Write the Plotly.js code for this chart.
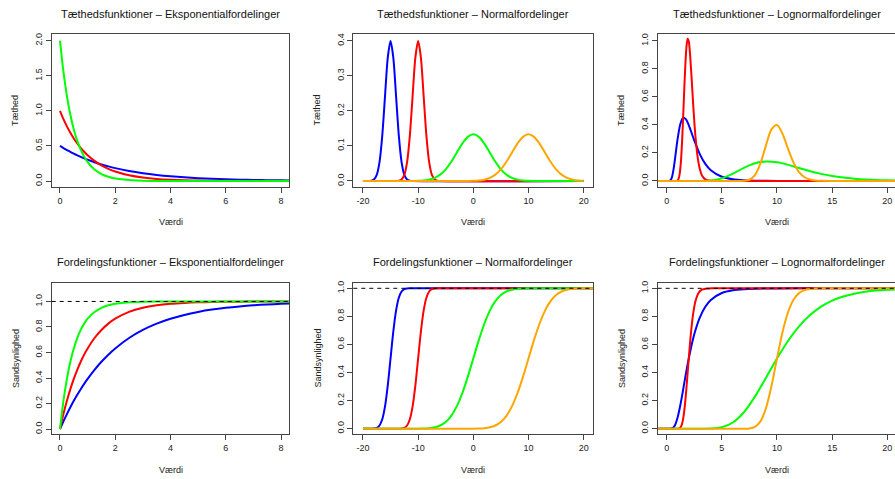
<!DOCTYPE html>
<html>
<head>
<meta charset="utf-8">
<script src="https://cdn.plot.ly/plotly-3.0.1.min.js"></script>
<style>html,body{margin:0;padding:0;background:#fff;}#chart{width:895px;height:479px;}</style>
</head>
<body>
<div id="chart"></div>
<script>
// ---------- Titles / labels ----------
const panelTitles = [
  "Tæthedsfunktioner – Eksponentialfordelinger",
  "Tæthedsfunktioner – Normalfordelinger",
  "Tæthedsfunktioner – Lognormalfordelinger",
  "Fordelingsfunktioner – Eksponentialfordelinger",
  "Fordelingsfunktioner – Normalfordelinger",
  "Fordelingsfunktioner – Lognormalfordelinger"
];
const xLabel = "Værdi";
const yLabelTop = "Tæthed";
const yLabelBottom = "Sandsynlighed";

// ---------- Exponential (rates 0.5 blue, 1 red, 2 green) ----------
const expX = [0,0.125,0.25,0.375,0.5,0.625,0.75,0.875,1,1.25,1.5,1.75,2,2.5,3,3.5,4,4.5,5,5.5,6,6.5,7,7.5,8,8.3];
const expDensBlue = [0.5,0.4697,0.4412,0.4145,0.3894,0.3658,0.3436,0.3228,0.3033,0.2676,0.2362,0.2084,0.1839,0.1433,0.1116,0.0869,0.0677,0.0527,0.0410,0.0320,0.0249,0.0194,0.0151,0.0118,0.0092,0.0079];
const expDensRed = [1,0.8825,0.7788,0.6873,0.6065,0.5353,0.4724,0.4169,0.3679,0.2865,0.2231,0.1738,0.1353,0.0821,0.0498,0.0302,0.0183,0.0111,0.0067,0.0041,0.0025,0.0015,0.0009,0.0006,0.0003,0.0002];
const expDensGreen = [2,1.5576,1.2131,0.9447,0.7358,0.5730,0.4463,0.3476,0.2707,0.1642,0.0996,0.0604,0.0366,0.0135,0.0050,0.0018,0.0007,0.0002,0.0001,0,0,0,0,0,0,0];
const expCdfBlue = [0,0.0606,0.1175,0.1710,0.2212,0.2684,0.3127,0.3543,0.3935,0.4647,0.5276,0.5831,0.6321,0.7135,0.7769,0.8262,0.8647,0.8946,0.9179,0.9361,0.9502,0.9612,0.9698,0.9765,0.9817,0.9842];
const expCdfRed = [0,0.1175,0.2212,0.3127,0.3935,0.4647,0.5276,0.5831,0.6321,0.7135,0.7769,0.8262,0.8647,0.9179,0.9502,0.9698,0.9817,0.9889,0.9933,0.9959,0.9975,0.9985,0.9991,0.9994,0.9997,0.9998];
const expCdfGreen = [0,0.2212,0.3935,0.5276,0.6321,0.7135,0.7769,0.8262,0.8647,0.9179,0.9502,0.9698,0.9817,0.9933,0.9975,0.9991,0.9997,0.9999,1,1,1,1,1,1,1,1];

// ---------- Normal ----------
const normBlueDensX = [-20,-19,-18.5,-18,-17.5,-17,-16.5,-16,-15.5,-15,-14.5,-14,-13.5,-13,-12.5,-12,-11.5,-11,20];
const normBlueDens = [0,0.0001,0.0009,0.0044,0.0175,0.0540,0.1295,0.2420,0.3521,0.3989,0.3521,0.2420,0.1295,0.0540,0.0175,0.0044,0.0009,0.0001,0];
const normBlueCdfX = [-20,-19,-18.5,-18,-17.5,-17,-16.5,-16,-15.5,-15,-14.5,-14,-13.5,-13,-12.5,-12,-11.5,-11,21.7];
const normBlueCdf = [0,0,0.0002,0.0013,0.0062,0.0228,0.0668,0.1587,0.3085,0.5,0.6915,0.8413,0.9332,0.9772,0.9938,0.9987,0.9998,1,1];

const normRedDensX = [-20,-14,-13.5,-13,-12.5,-12,-11.5,-11,-10.5,-10,-9.5,-9,-8.5,-8,-7.5,-7,-6.5,-6,20];
const normRedDens = [0,0.0001,0.0009,0.0044,0.0175,0.0540,0.1295,0.2420,0.3521,0.3989,0.3521,0.2420,0.1295,0.0540,0.0175,0.0044,0.0009,0.0001,0];
const normRedCdfX = [-20,-14,-13.5,-13,-12.5,-12,-11.5,-11,-10.5,-10,-9.5,-9,-8.5,-8,-7.5,-7,-6.5,-6,21.7];
const normRedCdf = [0,0,0.0002,0.0013,0.0062,0.0228,0.0668,0.1587,0.3085,0.5,0.6915,0.8413,0.9332,0.9772,0.9938,0.9987,0.9998,1,1];

const normGreenDensX = [-20,-12,-11,-10,-9,-8,-7,-6,-5,-4,-3,-2,-1,0,1,2,3,4,5,6,7,8,9,10,11,12,20];
const normGreenDens = [0,0,0.0002,0.0005,0.0015,0.0038,0.0087,0.0180,0.0331,0.0547,0.0807,0.1065,0.1258,0.1330,0.1258,0.1065,0.0807,0.0547,0.0331,0.0180,0.0087,0.0038,0.0015,0.0005,0.0002,0,0];
const normGreenCdfX = [-20,-12,-11,-10,-9,-8,-7,-6,-5,-4,-3,-2,-1,0,1,2,3,4,5,6,7,8,9,10,11,12,21.7];
const normGreenCdf = [0,0,0.0001,0.0004,0.0013,0.0038,0.0098,0.0228,0.0478,0.0912,0.1587,0.2525,0.3694,0.5,0.6306,0.7475,0.8413,0.9088,0.9522,0.9772,0.9902,0.9962,0.9987,0.9996,0.9999,1,1];

const normOrangeDensX = [-20,-2,-1,0,1,2,3,4,5,6,7,8,9,10,11,12,13,14,15,16,17,18,19,20];
const normOrangeDens = [0,0,0.0002,0.0005,0.0015,0.0038,0.0087,0.0180,0.0331,0.0547,0.0807,0.1065,0.1258,0.1330,0.1258,0.1065,0.0807,0.0547,0.0331,0.0180,0.0087,0.0038,0.0015,0.0005];
const normOrangeCdfX = [-20,-2,-1,0,1,2,3,4,5,6,7,8,9,10,11,12,13,14,15,16,17,18,19,20,21.7];
const normOrangeCdf = [0,0,0.0001,0.0004,0.0013,0.0038,0.0098,0.0228,0.0478,0.0912,0.1587,0.2525,0.3694,0.5,0.6306,0.7475,0.8413,0.9088,0.9522,0.9772,0.9902,0.9962,0.9987,0.9996,0.9999];

// ---------- Lognormal ----------
const lnBlueX = [-0.8,0,0.25,0.4,0.5,0.6,0.75,1,1.25,1.5,1.75,2,2.5,3,3.5,4,5,6,7,8,10,12,20.8];
const lnBlueDens = [0,0,0.0006,0.0112,0.0342,0.0733,0.1553,0.3052,0.4104,0.4508,0.4400,0.3989,0.2889,0.1915,0.1219,0.0763,0.0298,0.0119,0.0049,0.0021,0.0005,0.0001,0];
const lnBlueCdf = [0,0,0,0.0006,0.0028,0.0080,0.0249,0.0829,0.1736,0.2825,0.3947,0.5,0.6723,0.7913,0.8685,0.9171,0.9666,0.9860,0.9939,0.9972,0.9994,0.9998,1];

const lnRedX = [-0.8,0.8,0.9,1.0,1.1,1.2,1.3,1.4,1.5,1.6,1.7,1.8,1.9,2.0,2.1,2.2,2.3,2.4,2.5,2.6,2.8,3.0,3.2,3.5,4.0,4.5,20.8];
const lnRedDens = [0,0,0.0008,0.0049,0.0208,0.0637,0.1508,0.2905,0.4726,0.6691,0.8434,0.9646,1.0158,0.9974,0.9220,0.8093,0.6794,0.5485,0.4282,0.3244,0.1730,0.0852,0.0394,0.0114,0.0012,0.0001,0];
const lnRedCdf = [0,0,0,0.0003,0.0014,0.0053,0.0156,0.0373,0.0752,0.1322,0.2082,0.2992,0.3988,0.5,0.5964,0.6832,0.7577,0.8190,0.8677,0.9052,0.9537,0.9787,0.9906,0.9974,0.9997,1,1];

const lnGreenX = [-0.8,2,3,4,5,6,7,8,9,10,11,12,13,14,15,16,17,18,19,20,20.8];
const lnGreenDens = [0,0,0.0001,0.0031,0.0184,0.0520,0.0937,0.1261,0.1389,0.1330,0.1149,0.0921,0.0698,0.0506,0.0356,0.0244,0.0164,0.0108,0.0071,0.0046,0.0032];
const lnGreenCdf = [0,0,0,0.0011,0.0104,0.0443,0.1172,0.2285,0.3627,0.5,0.6246,0.7283,0.8091,0.8690,0.9117,0.9414,0.9615,0.9750,0.9838,0.9896,0.9927];

const lnOrangeX = [-0.8,6.5,7,7.5,8,8.5,9,9.5,10,10.5,11,11.5,12,12.5,13,13.5,14,15,20.8];
const lnOrangeDens = [0,0,0.0010,0.0085,0.0414,0.1254,0.2544,0.3681,0.3989,0.3373,0.2303,0.1306,0.0631,0.0265,0.0098,0.0033,0.0010,0.0001,0];
const lnOrangeCdf = [0,0,0.0002,0.0020,0.0128,0.0521,0.1460,0.3040,0.5,0.6872,0.8297,0.9189,0.9659,0.9872,0.9957,0.9987,0.9996,1,1];

// ---------- Tick labels ----------
const expXTicks = [0,2,4,6,8];
const normXTicks = [-20,-10,0,10,20];
const normXTickText = ["-20","-10","0","10","20"];
const lnXTicks = [0,5,10,15,20];
const expDensYTicks = [0,0.5,1,1.5,2];
const normDensYTicks = [0,0.1,0.2,0.3,0.4];
const probYTicks = [0,0.2,0.4,0.6,0.8,1];
const refLevel = 1;

// ---------- Build ----------
const BLUE = "#0000FF", RED = "#FF0000", GREEN = "#00FF00", ORANGE = "#FFA500";
function tr(x, y, color, ax) {
  return {x: x, y: y, type: "scatter", mode: "lines", xaxis: "x" + ax, yaxis: "y" + ax,
          line: {color: color, width: 2, shape: "spline", smoothing: 0.8}, hoverinfo: "skip"};
}
const data = [
  tr(expX, expDensBlue, BLUE, ""), tr(expX, expDensRed, RED, ""), tr(expX, expDensGreen, GREEN, ""),
  tr(normBlueDensX, normBlueDens, BLUE, "2"), tr(normRedDensX, normRedDens, RED, "2"),
  tr(normGreenDensX, normGreenDens, GREEN, "2"), tr(normOrangeDensX, normOrangeDens, ORANGE, "2"),
  tr(lnBlueX, lnBlueDens, BLUE, "3"), tr(lnRedX, lnRedDens, RED, "3"),
  tr(lnGreenX, lnGreenDens, GREEN, "3"), tr(lnOrangeX, lnOrangeDens, ORANGE, "3"),
  tr(expX, expCdfBlue, BLUE, "4"), tr(expX, expCdfRed, RED, "4"), tr(expX, expCdfGreen, GREEN, "4"),
  tr(normBlueCdfX, normBlueCdf, BLUE, "5"), tr(normRedCdfX, normRedCdf, RED, "5"),
  tr(normGreenCdfX, normGreenCdf, GREEN, "5"), tr(normOrangeCdfX, normOrangeCdf, ORANGE, "5"),
  tr(lnBlueX, lnBlueCdf, BLUE, "6"), tr(lnRedX, lnRedCdf, RED, "6"),
  tr(lnGreenX, lnGreenCdf, GREEN, "6"), tr(lnOrangeX, lnOrangeCdf, ORANGE, "6")
];

const W = 895, H = 479;
const colPx = [[51.7, 289.3], [353.3, 593.3], [657.7, 895]];
const rowPx = [[34.3, 186.7], [282.7, 434.3]];
const xr = [[-0.30, 8.30], [-21.75, 21.75], [-0.816, 20.70]];
const yr = [[-0.081, 2.091], [-0.0163, 0.4183], [-0.041, 1.047], [-0.041, 1.147], [-0.04, 1.04], [-0.04, 1.04]];
const yTicks = [expDensYTicks, normDensYTicks, probYTicks, probYTicks, probYTicks, probYTicks];
const xTicks = [expXTicks, normXTicks, lnXTicks];
const xTickText = [expXTicks.map(String), normXTickText, lnXTicks.map(String)];

const font = {family: "Liberation Sans, Arial, Helvetica, sans-serif", size: 9, color: "#222"};
const layout = {
  width: W, height: H, margin: {l: 0, r: 0, t: 0, b: 0},
  paper_bgcolor: "#fff", plot_bgcolor: "#fff", showlegend: false, font: font,
  annotations: [], shapes: []
};
for (let i = 0; i < 6; i++) {
  const c = i % 3, r = Math.floor(i / 3);
  const sfx = i === 0 ? "" : String(i + 1);
  const common = {showline: true, linecolor: "#444", linewidth: 1, ticks: "outside", ticklen: 5,
                  tickcolor: "#444", tickwidth: 1, showgrid: false, zeroline: false, fixedrange: true,
                  tickfont: {size: 9, color: "#222"}};
  layout["xaxis" + sfx] = Object.assign({}, common, {
    domain: [colPx[c][0] / W, colPx[c][1] / W], range: xr[c], anchor: "y" + sfx, mirror: true,
    tickmode: "array", tickvals: xTicks[c], ticktext: xTickText[c]
  });
  layout["yaxis" + sfx] = Object.assign({}, common, {
    domain: [1 - rowPx[r][1] / H, 1 - rowPx[r][0] / H], range: yr[i], anchor: "x" + sfx,
    mirror: c === 2 ? false : true, tickangle: -90, tickmode: "array", tickvals: yTicks[i],
    ticktext: yTicks[i].map(v => v.toFixed(1))
  });
  const cx = (colPx[c][0] + (c === 2 ? 896.2 : colPx[c][1])) / 2;
  const titleY = r === 0 ? 14 : 261.7;
  const xlabY = r === 0 ? 222 : 470;
  const ylabX = colPx[c][0] - 36.2;
  const midY = (rowPx[r][0] + rowPx[r][1]) / 2;
  layout.annotations.push(
    {text: panelTitles[i], xref: "paper", yref: "paper", x: cx / W, y: 1 - titleY / H,
     xanchor: "center", yanchor: "middle", showarrow: false, font: {size: 11, color: "#111"}},
    {text: xLabel, xref: "paper", yref: "paper", x: cx / W, y: 1 - xlabY / H,
     xanchor: "center", yanchor: "middle", showarrow: false, font: {size: 9, color: "#222"}},
    {text: r === 0 ? yLabelTop : yLabelBottom, xref: "paper", yref: "paper", x: ylabX / W, y: 1 - midY / H,
     xanchor: "center", yanchor: "middle", textangle: -90, showarrow: false, font: {size: 9, color: "#222"}}
  );
  if (r === 1) {
    layout.shapes.push({type: "line", xref: "x" + sfx + " domain", x0: 0, x1: 1, yref: "y" + sfx,
      y0: refLevel, y1: refLevel, line: {color: "#000", width: 1, dash: "4px,4px"}, layer: "above"});
  }
}
Plotly.newPlot("chart", data, layout, {staticPlot: true, displayModeBar: false});
</script>
</body>
</html>
